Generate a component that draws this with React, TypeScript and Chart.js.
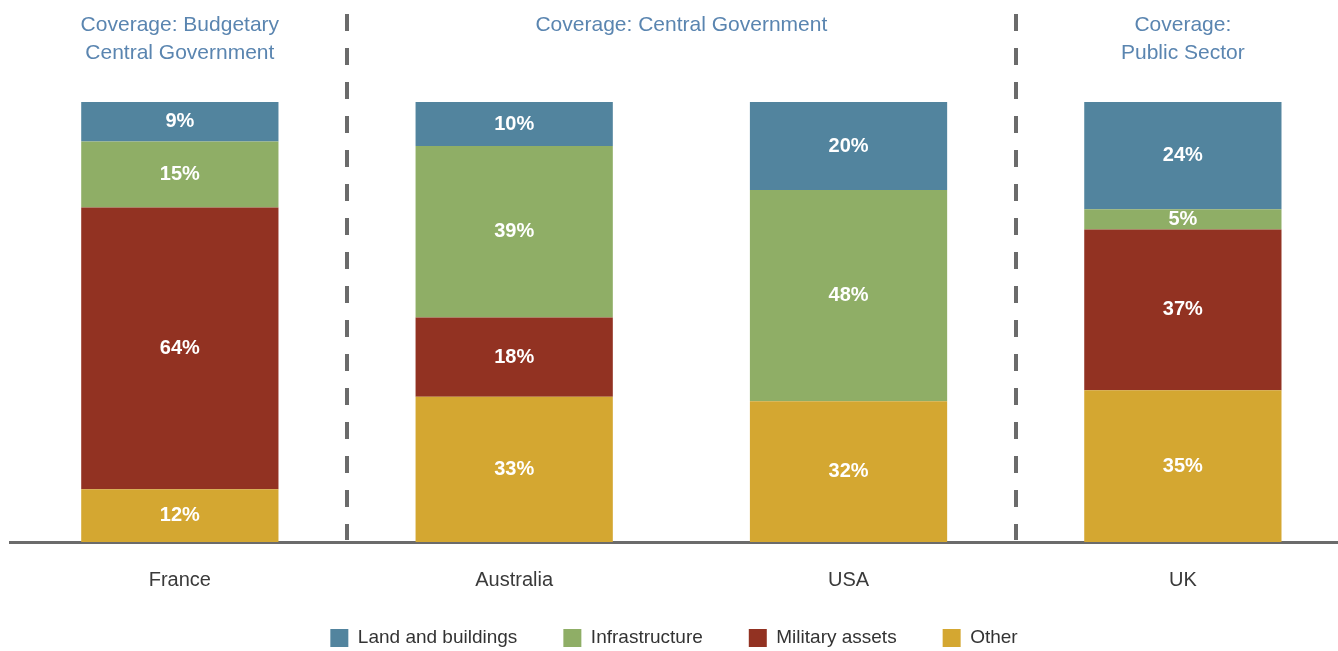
import { useEffect, useRef } from "react";
import { Chart, registerables } from "chart.js";

Chart.register(...registerables);

// ---- Data ----
const categories = ["France", "Australia", "USA", "UK"];
const landBuildings = [9, 10, 20, 24.4];
const infrastructure = [15, 39, 48, 4.6];
const militaryAssets = [64, 18, 0, 36.5];
const other = [12, 33, 32, 34.5];
const seriesNames = ["Land and buildings", "Infrastructure", "Military assets", "Other"];
const coverageTitles = [
  ["Coverage: Budgetary", "Central Government"],
  ["Coverage: Central Government"],
  ["Coverage:", "Public Sector"],
];
const coverageGroups = [["France"], ["Australia", "USA"], ["UK"]];

const FONT = '"Liberation Sans", Arial, sans-serif';
const COLORS = {
  land: "#52849e",
  infra: "#8fae66",
  military: "#923222",
  other: "#d4a731",
};

export default function App() {
  const ref = useRef<HTMLCanvasElement>(null);

  useEffect(() => {
    document.body.style.margin = "0";
    const canvas = ref.current;
    if (!canvas) return;

    const toPoints = (arr: number[]) => arr.map((v, i) => ({ x: i, y: v }));

    const segLabels = {
      id: "segLabels",
      afterDatasetsDraw(chart: any) {
        const ctx = chart.ctx;
        ctx.save();
        ctx.fillStyle = "#ffffff";
        ctx.font = `bold 20px ${FONT}`;
        ctx.textAlign = "center";
        ctx.textBaseline = "middle";
        chart.data.datasets.forEach((ds: any, di: number) => {
          const meta = chart.getDatasetMeta(di);
          meta.data.forEach((el: any, i: number) => {
            const v = ds.data[i].y;
            if (!v) return;
            const p = el.getProps(["x", "y", "base"], true);
            ctx.fillText(`${Math.round(v)}%`, p.x, (p.y + p.base) / 2);
          });
        });
        ctx.restore();
      },
    };

    const groupsPlugin = {
      id: "groups",
      afterDraw(chart: any) {
        const ctx = chart.ctx;
        const xs = chart.scales.x;
        const area = chart.chartArea;
        ctx.save();
        // dividers
        ctx.strokeStyle = "#6b6b6b";
        ctx.lineWidth = 4;
        ctx.setLineDash([17, 17]);
        for (let g = 0; g < coverageGroups.length - 1; g++) {
          const last = categories.indexOf(coverageGroups[g][coverageGroups[g].length - 1]);
          const px = Math.round(xs.getPixelForValue(last + 0.5));
          ctx.beginPath();
          ctx.moveTo(px, 14);
          ctx.lineTo(px, area.bottom - 2);
          ctx.stroke();
        }
        ctx.setLineDash([]);
        // titles
        ctx.fillStyle = "#5a85b0";
        ctx.font = `21px ${FONT}`;
        ctx.textAlign = "center";
        ctx.textBaseline = "middle";
        coverageGroups.forEach((grp, g) => {
          const idx = grp.map((c) => categories.indexOf(c));
          const mid = idx.reduce((a, b) => a + b, 0) / idx.length;
          const px = xs.getPixelForValue(mid);
          coverageTitles[g].forEach((line, li) => {
            ctx.fillText(line, px, 25 + li * 28);
          });
        });
        ctx.restore();
      },
    };

    const chart = new Chart(canvas, {
      type: "bar",
      data: {
        datasets: [
          { label: seriesNames[3], data: toPoints(other), backgroundColor: COLORS.other },
          { label: seriesNames[2], data: toPoints(militaryAssets), backgroundColor: COLORS.military },
          { label: seriesNames[1], data: toPoints(infrastructure), backgroundColor: COLORS.infra },
          { label: seriesNames[0], data: toPoints(landBuildings), backgroundColor: COLORS.land },
        ] as any,
      },
      options: {
        animation: false,
        responsive: true,
        maintainAspectRatio: false,
        layout: { padding: { top: 102, left: 10, right: 0, bottom: -6.5 } },
        datasets: { bar: { barPercentage: 0.59, categoryPercentage: 1, borderWidth: 0 } } as any,
        scales: {
          x: {
            type: "linear",
            stacked: true,
            offset: false,
            min: -0.508,
            max: 3.464,
            afterBuildTicks: (s: any) => {
              s.ticks = categories.map((_, i) => ({ value: i }));
            },
            afterFit: (s: any) => {
              s.height = 40.5;
              s._computeLabelArea = () => undefined;
            },
            grid: { display: false, drawTicks: false },
            border: { display: true, color: "#6b6b6b", width: 3 },
            ticks: {
              autoSkip: false,
              maxRotation: 0,
              padding: 26,
              color: "#3a3a3a",
              font: { size: 20, family: FONT },
              callback: (v: any) =>
                Number.isInteger(v) && categories[v] !== undefined ? categories[v] : "",
            },
          } as any,
          y: {
            stacked: true,
            display: false,
            min: 0,
            max: 100,
          },
        },
        plugins: {
          legend: {
            position: "bottom",
            reverse: true,
            labels: {
              boxWidth: 18,
              boxHeight: 18,
              padding: 46,
              color: "#333333",
              font: { size: 19, family: FONT },
            },
          } as any,
          tooltip: { enabled: false },
        },
      },
      plugins: [segLabels, groupsPlugin],
    });

    return () => chart.destroy();
  }, []);

  return (
    <div style={{ width: 1338, height: 651, position: "relative" }}>
      <canvas ref={ref} />
    </div>
  );
}
